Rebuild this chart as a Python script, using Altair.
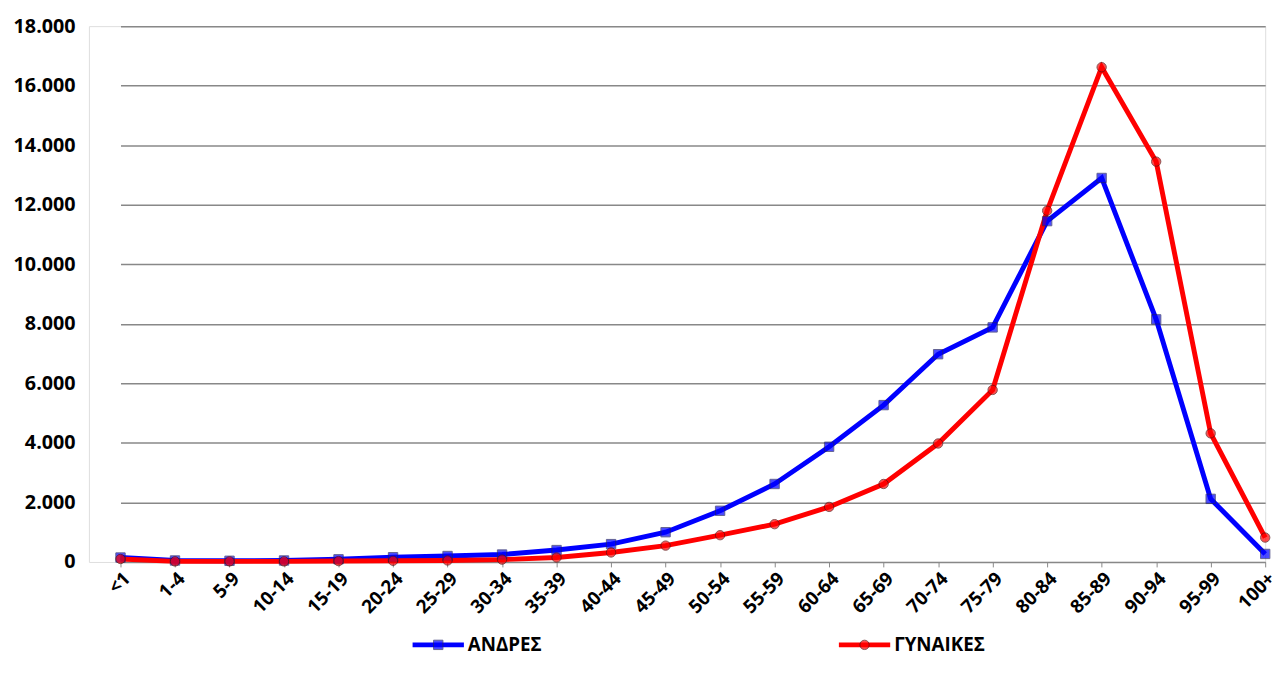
import altair as alt
import pandas as pd

ages = ["<1","1-4","5-9","10-14","15-19","20-24","25-29","30-34","35-39","40-44","45-49",
        "50-54","55-59","60-64","65-69","70-74","75-79","80-84","85-89","90-94","95-99","100+"]
men = [150,50,40,50,90,160,200,250,400,600,1000,1720,2620,3870,5270,6980,7880,11450,12900,8150,2120,270]
women = [100,20,20,20,30,40,50,80,150,320,550,900,1270,1850,2620,3980,5780,11800,16620,13450,4320,820]
series = ["ΑΝΔΡΕΣ", "ΓΥΝΑΙΚΕΣ"]
colors = ["#0000ff", "#ff0000"]

rows = []
for a, m, w in zip(ages, men, women):
    rows.append({"age": a, "v": m, "s": series[0]})
    rows.append({"age": a, "v": w, "s": series[1]})
df = pd.DataFrame(rows)

F = "Open Sans"
x = alt.X("age:N", sort=ages, title=None,
          scale=alt.Scale(type="point", padding=0, range=[32, 1192]),
          axis=alt.Axis(labelAngle=-45, labelFont=F, labelFontSize=19, labelFontWeight="bold",
                        labelColor="black", grid=False, domainColor="#888", tickColor="#888",
                        labelPadding=2))
y = alt.Y("v:Q", title=None, scale=alt.Scale(domain=[0, 18000]),
          axis=alt.Axis(values=list(range(0, 18001, 2000)), labelFont=F, labelFontSize=20,
                        labelFontWeight="bold", labelColor="black", domain=False, ticks=False,
                        gridColor="#888", gridWidth=1.5, labelPadding=14,
                        labelExpr="replace(format(datum.value, ',d'), ',', '.')"))
col = alt.Color("s:N", scale=alt.Scale(domain=series, range=colors), legend=None)

base = alt.Chart(df)
lines = base.mark_line(strokeWidth=5).encode(x=x, y=y, color=col)
m_pts = base.transform_filter(alt.datum.s == series[0]).mark_point(
    shape="square", filled=True, size=90, color="#0000ff", stroke="#222266", strokeWidth=1
).encode(x=x, y=y)
w_pts = base.transform_filter(alt.datum.s == series[1]).mark_point(
    shape="circle", filled=True, size=90, color="#ff0000", stroke="#551111", strokeWidth=1
).encode(x=x, y=y)

H = 543
LY = H + 84
one = alt.Data(values=[{}])
def leg(x0, label, color, shape, stroke):
    ln = alt.Chart(one).mark_rule(color=color, strokeWidth=5).encode(
        x=alt.value(x0), x2=alt.value(x0 + 52), y=alt.value(LY))
    pt = alt.Chart(one).mark_point(shape=shape, filled=True, size=90, color=color,
                                  stroke=stroke, strokeWidth=1).encode(
        x=alt.value(x0 + 26), y=alt.value(LY))
    tx = alt.Chart(one).mark_text(text=label, align="left", baseline="middle", font=F,
                                  fontSize=19, fontWeight="bold", color="black").encode(
        x=alt.value(x0 + 56), y=alt.value(LY))
    return ln + pt + tx

chart = alt.layer(lines, m_pts, w_pts,
                  leg(328, series[0], colors[0], "square", "#222266"),
                  leg(760, series[1], colors[1], "circle", "#551111")).properties(
    width=1192, height=H
).configure_view(stroke=None).configure(padding={"left": 5, "top": 4, "right": 0, "bottom": 5})

chart.save("out.html", embed_options={"renderer": "svg", "actions": False})
